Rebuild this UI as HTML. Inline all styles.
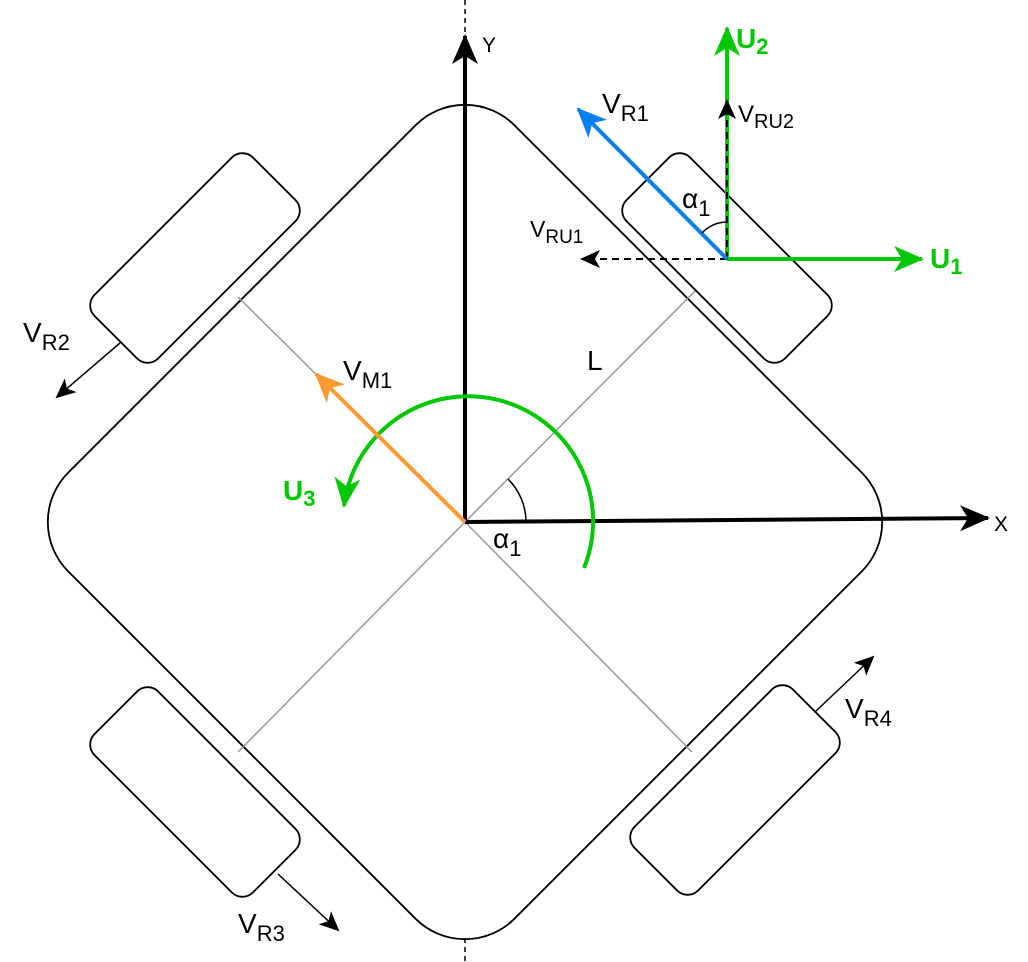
<!DOCTYPE html>
<html><head><meta charset="utf-8"><style>
html,body{margin:0;padding:0;background:#fff}
svg{display:block}
text{font-family:"Liberation Sans",sans-serif}
</style></head><body>
<svg width="1028" height="962" viewBox="0 0 1028 962">
<defs>
<marker id="as" markerWidth="20" markerHeight="18" refX="18" refY="9" orient="auto" markerUnits="userSpaceOnUse" viewBox="0 0 20 18"><path d="M0,0 L20,9 L0,18 L5,9 z" fill="#000"/></marker>
<marker id="abB" markerWidth="30" markerHeight="26" refX="28" refY="13" orient="auto" markerUnits="userSpaceOnUse" viewBox="0 0 30 26"><path d="M0,0 L30,13 L0,26 L8,13 z" fill="#000"/></marker>
<marker id="ag" markerWidth="30" markerHeight="26" refX="28" refY="13" orient="auto" markerUnits="userSpaceOnUse" viewBox="0 0 30 26"><path d="M0,0 L30,13 L0,26 L8,13 z" fill="#00c800"/></marker>
<marker id="abl" markerWidth="30" markerHeight="26" refX="28" refY="13" orient="auto" markerUnits="userSpaceOnUse" viewBox="0 0 30 26"><path d="M0,0 L30,13 L0,26 L8,13 z" fill="#0a7ff0"/></marker>
<marker id="ao" markerWidth="30" markerHeight="26" refX="28" refY="13" orient="auto" markerUnits="userSpaceOnUse" viewBox="0 0 30 26"><path d="M0,0 L30,13 L0,26 L8,13 z" fill="#ff9a33"/></marker>
</defs>
<line x1="465" y1="0" x2="465" y2="36" stroke="#000" stroke-width="1.5" stroke-dasharray="5,4"/>
<line x1="465" y1="938" x2="465" y2="962" stroke="#000" stroke-width="1.5" stroke-dasharray="5,4"/>
<rect x="149.5" y="206.5" width="631" height="631" rx="70" transform="rotate(45 465 522)" fill="none" stroke="#000" stroke-width="1.8"/>
<g stroke="#999" stroke-width="1.5">
<line x1="465" y1="522" x2="238" y2="297"/><line x1="465" y1="522" x2="727" y2="259"/>
<line x1="465" y1="522" x2="238" y2="752"/><line x1="465" y1="522" x2="692" y2="752"/>
</g>
<g fill="#fff" stroke="#000" stroke-width="1.8">
<rect x="83" y="213" width="224" height="90" rx="15" transform="rotate(-45 195 258)"/>
<rect x="615" y="213" width="224" height="90" rx="15" transform="rotate(45 727 258)"/>
<rect x="83" y="747" width="224" height="90" rx="15" transform="rotate(45 195 792)"/>
<rect x="623" y="745" width="224" height="90" rx="15" transform="rotate(-45 735 790)"/>
</g>
<line x1="120" y1="343" x2="57" y2="397" stroke="#000" stroke-width="1.5" marker-end="url(#as)"/>
<line x1="278" y1="874" x2="338" y2="930" stroke="#000" stroke-width="1.5" marker-end="url(#as)"/>
<line x1="815" y1="712" x2="873" y2="657" stroke="#000" stroke-width="1.5" marker-end="url(#as)"/>
<line x1="465" y1="522" x2="465" y2="36" stroke="#000" stroke-width="4" marker-end="url(#abB)"/>
<line x1="465" y1="522" x2="988" y2="518" stroke="#000" stroke-width="4" marker-end="url(#abB)"/>
<text x="482" y="52" font-size="21">Y</text>
<text x="994" y="531" font-size="21">X</text>
<path d="M584,568 A125,125 0 1 0 344,506" fill="none" stroke="#00c800" stroke-width="4" marker-end="url(#ag)"/>
<path d="M526,520 A61,61 0 0 0 508,479" fill="none" stroke="#000" stroke-width="1.5"/>
<line x1="465" y1="522" x2="316" y2="374" stroke="#ff9a33" stroke-width="4" marker-end="url(#ao)"/>
<line x1="727" y1="259" x2="582" y2="259" stroke="#000" stroke-width="2" stroke-dasharray="7,5" marker-end="url(#as)"/>
<line x1="727" y1="259" x2="727" y2="28" stroke="#00c800" stroke-width="4" marker-end="url(#ag)"/>
<line x1="727" y1="259" x2="922" y2="259" stroke="#00c800" stroke-width="4" marker-end="url(#ag)"/>
<line x1="727" y1="259" x2="727" y2="101" stroke="#000" stroke-width="2" stroke-dasharray="7,5" marker-end="url(#as)"/>
<line x1="727" y1="259" x2="578" y2="109" stroke="#0a7ff0" stroke-width="4" marker-end="url(#abl)"/>
<path d="M702,233 A35,35 0 0 1 727,222" fill="none" stroke="#000" stroke-width="1.5"/>
<g font-size="28" fill="#000">
<text x="602" y="113">V<tspan font-size="22" dy="8">R1</tspan></text>
<text x="738" y="122" font-size="24">V<tspan font-size="20" dy="6">RU2</tspan></text>
<text x="530" y="237" font-size="23">V<tspan font-size="19" dy="6">RU1</tspan></text>
<text x="682" y="208">α<tspan font-size="22" dy="8">1</tspan></text>
<text x="23" y="342">V<tspan font-size="22" dy="8">R2</tspan></text>
<text x="343" y="380">V<tspan font-size="22" dy="8">M1</tspan></text>
<text x="587" y="370">L</text>
<text x="493" y="548">α<tspan font-size="22" dy="8">1</tspan></text>
<text x="845" y="718">V<tspan font-size="22" dy="8">R4</tspan></text>
<text x="238" y="933">V<tspan font-size="22" dy="8">R3</tspan></text>
</g>
<g font-size="28" font-weight="bold" fill="#00c800">
<text x="736" y="48">U<tspan font-size="22" dy="6">2</tspan></text>
<text x="930" y="268">U<tspan font-size="22" dy="6">1</tspan></text>
<text x="283" y="500">U<tspan font-size="22" dy="6">3</tspan></text>
</g>
</svg>
</body></html>
